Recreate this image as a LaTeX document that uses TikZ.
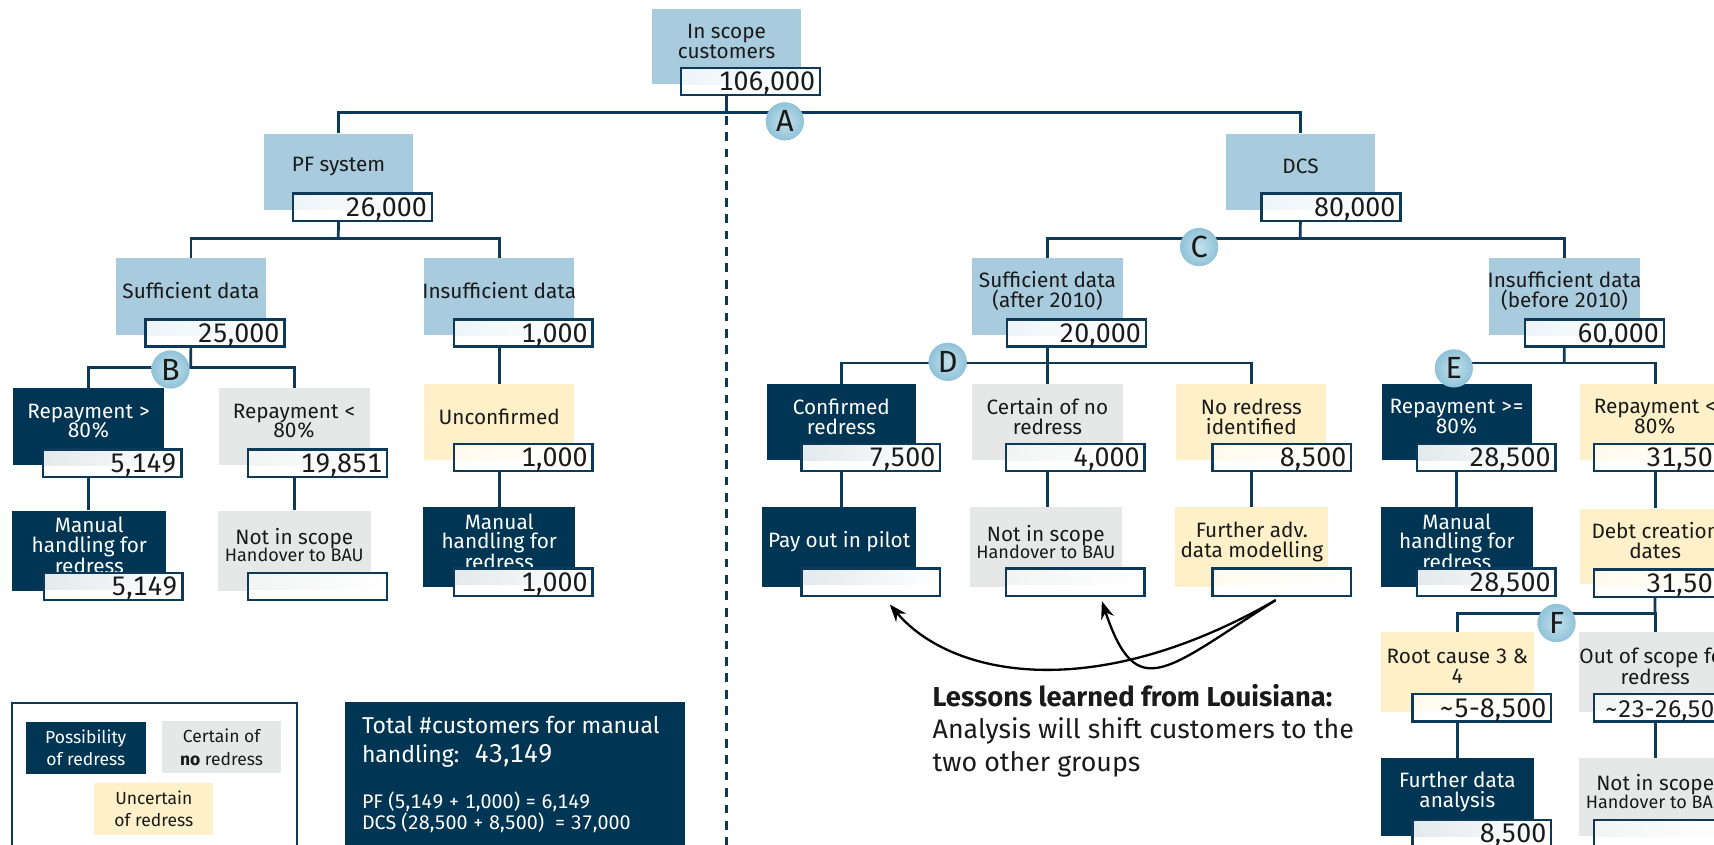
\documentclass[tikz,border=0pt]{standalone}
\usepackage{fontspec}
\setmainfont{Fira Sans}[Numbers={Monospaced,Lining}]
\usetikzlibrary{arrows.meta}
\definecolor{lblue}{HTML}{A8CBDE}
\definecolor{navy}{HTML}{003653}
\definecolor{lgray}{HTML}{E6E8E8}
\definecolor{lyellow}{HTML}{FEF1C9}
\definecolor{linec}{HTML}{0D3A58}
\definecolor{txt}{HTML}{1A1A1A}
\definecolor{circin}{HTML}{C2E1EC}
\definecolor{circout}{HTML}{90C2D8}
\pgfdeclarelayer{bg}
\pgfsetlayers{bg,main}
\newcommand\tnode[8]{%
  \node[#2, minimum width=#5pt, minimum height=#6pt] (#1) at (#3,#4) {};
  \node[#8] (#1-t) at ([yshift=5pt]#1.center) {#7};}
\newcommand\nnode[5]{\node[numbox, tint=#4] (#1) at (#2,#3) {#5};}
\newcommand\hov{\\[-2pt]{\fontsize{16.5}{15}\selectfont Handover to BAU}}
\begin{document}
\begin{tikzpicture}[x=1pt, y=-1pt,
  cbox/.style={rectangle, inner sep=0pt, anchor=north west},
  bluebox/.style={cbox, fill=lblue},
  darkbox/.style={cbox, fill=navy},
  graybox/.style={cbox, fill=lgray},
  yelbox/.style={cbox, fill=lyellow},
  lab/.style={align=center, font=\fontsize{19}{18}\selectfont, text=txt, inner sep=0pt},
  labw/.style={lab, text=white},
  tint/.style={path picture={\shade[left color=#1, right color=white] (path picture bounding box.north west) rectangle ([yshift=-15pt]path picture bounding box.north east);}},
  numbox/.style={rectangle, draw=linec, line width=2.2pt, fill=white, anchor=north west,
    minimum height=25pt, text width=118pt, inner xsep=4.5pt, inner ysep=0pt, align=right,
    font=\fontsize{24.5}{24.5}\selectfont, text height=17pt, text depth=0pt, text=txt},
  conn/.style={draw=linec, line width=2.5pt},
  circ/.style={circle, inner sep=0pt, minimum size=35pt, inner color=circin, outer color=circout,
    font=\fontsize{28}{28}\selectfont, text=txt},
  legtext/.style={align=center, font=\fontsize{16}{20.7}\selectfont, text=txt, inner sep=0pt},
  arr/.style={draw=black, line width=2.1pt, -{Stealth[length=16pt, width=12pt]}},
  bigtext/.style={anchor=base west, inner sep=0pt, text=txt, font=\fontsize{24.5}{24.5}\selectfont},
  tottext/.style={anchor=base west, inner sep=0pt, text=white, font=\fontsize{21}{21}\selectfont},
  smalltot/.style={anchor=base west, inner sep=0pt, text=white, font=\fontsize{18}{18}\selectfont},
]
\useasboundingbox (0,0) rectangle (1568,773);
\clip (0,0) rectangle (1568,773);

% ---------- tree nodes ----------
\tnode{isc}{bluebox}{596}{8}{137}{69}{In scope\\customers}{lab}
\nnode{iscn}{622}{61}{lblue!20!white}{106,000}

\tnode{pf}{bluebox}{241}{122}{137}{70}{PF system}{lab}
\nnode{pfn}{267}{176}{lblue!20!white}{26,000}
\tnode{dcs}{bluebox}{1121}{122}{137}{70}{DCS}{lab}
\nnode{dcsn}{1153}{176}{lblue!20!white}{80,000}

\tnode{sl}{bluebox}{106}{236}{137}{70}{Sufficient data}{lab}
\nnode{sln}{132}{291}{lblue!20!white}{25,000}
\tnode{il}{bluebox}{388}{236}{137}{70}{Insufficient data}{lab}
\nnode{iln}{414}{291}{lblue!20!white}{1,000}
\tnode{sr}{bluebox}{889}{236}{138}{70}{Sufficient data\\(after 2010)}{lab}
\nnode{srn}{920}{291}{lblue!20!white}{20,000}
\tnode{ir}{bluebox}{1362}{236}{138}{70}{Insufficient data\\(before 2010)}{lab}
\nnode{irn}{1394}{291}{lblue!20!white}{60,000}

\tnode{rg}{darkbox}{12}{355}{138}{70}{Repayment >\\80\%}{labw}
\nnode{rgn}{38}{410}{navy!11!white}{5,149}
\tnode{rl}{graybox}{200}{355}{138}{70}{Repayment <\\80\%}{lab}
\nnode{rln}{226}{410}{lgray!50!white}{19,851}
\tnode{un}{yelbox}{388}{351}{137}{70}{Unconfirmed}{lab}
\nnode{unn}{414}{405}{lyellow!35!white}{1,000}
\tnode{cr}{darkbox}{701}{351}{137}{70}{Confirmed\\redress}{labw}
\nnode{crn}{732}{405}{navy!11!white}{7,500}
\tnode{cn}{graybox}{889}{351}{138}{70}{Certain of no\\redress}{lab}
\nnode{cnn}{919}{405}{lgray!50!white}{4,000}
\tnode{nr}{yelbox}{1076}{351}{137}{70}{No redress\\identified}{lab}
\nnode{nrn}{1108}{405}{lyellow!35!white}{8,500}
\tnode{rge}{darkbox}{1264}{351}{137}{70}{Repayment >=\\80\%}{labw}
\nnode{rgen}{1295}{405}{navy!11!white}{28,500}
\tnode{rlt}{yelbox}{1445}{351}{138}{70}{Repayment <\\80\%}{lab}
\nnode{rltn}{1457}{405}{lyellow!35!white}{31,500}

\tnode{ml}{darkbox}{11}{467}{141}{73}{Manual\\handling for\\redress}{labw}
\nnode{mln}{39}{523}{navy!11!white}{5,149}
\tnode{nl}{graybox}{199}{467}{140}{73}{Not in scope\hov}{lab}
\nnode{nln}{226}{523}{lgray!50!white}{}
\tnode{mlb}{darkbox}{387}{464}{139}{73}{Manual\\handling for\\redress}{labw}
\nnode{mlbn}{414}{519}{navy!11!white}{1,000}
\tnode{po}{darkbox}{697}{464}{141}{73}{Pay out in pilot}{labw}
\nnode{pon}{732}{519}{navy!11!white}{}
\tnode{ns}{graybox}{887}{464}{139}{73}{Not in scope\hov}{lab}
\nnode{nsn}{919}{519}{lgray!50!white}{}
\tnode{fa}{yelbox}{1075}{464}{140}{73}{Further adv.\\data modelling}{lab}
\nnode{fan}{1108}{519}{lyellow!35!white}{}
\tnode{mr}{darkbox}{1263}{464}{139}{73}{Manual\\handling for\\redress}{labw}
\nnode{mrn}{1295}{519}{navy!11!white}{28,500}
\tnode{dc}{yelbox}{1445}{465}{138}{69}{Debt creation\\dates}{lab}
\nnode{dcn}{1457}{520}{lyellow!35!white}{31,500}

\tnode{rc}{yelbox}{1263}{578}{140}{73}{Root cause 3 \&\\4}{lab}
\nnode{rcn}{1291}{634}{lyellow!35!white}{\textasciitilde5-8,500}
\tnode{os}{graybox}{1444}{578}{140}{73}{Out of scope for\\redress}{lab}
\nnode{osn}{1457}{634}{lgray!50!white}{\mbox{\fontsize{22}{22}\selectfont\textasciitilde23-26,500}}

\tnode{fd}{darkbox}{1263}{693}{140}{72}{Further data\\analysis}{labw}
\nnode{fdn}{1291}{749}{navy!11!white}{8,500}
\tnode{nsb}{graybox}{1444}{693}{140}{72}{Not in scope\hov}{lab}
\nnode{nsbn}{1457}{749}{lgray!50!white}{}

% ---------- junctions ----------
\coordinate (jA) at (664.5,103);
\coordinate (jPF) at (309.5,218);
\coordinate (jDCS) at (1189.5,218);
\coordinate (jSL) at (174.5,336);
\coordinate (jSR) at (958,332);
\coordinate (jIR) at (1431,332);
\coordinate (jDC) at (1514,561);
\coordinate (dashend) at (664.5,800);

% ---------- connectors ----------
\begin{pgfonlayer}{bg}
\draw[linec, line width=2.3pt, dash pattern=on 8pt off 7pt, dash phase=-3pt] (jA) -- (dashend);
\draw[conn] (isc.south) -- (jA);
\draw[conn] (pf.north) |- (jA) -| (dcs.north);
\draw[conn] (pf.south) -- (jPF);
\draw[conn] (sl.north) |- (jPF) -| (il.north);
\draw[conn] (dcs.south) -- (jDCS);
\draw[conn] (sr.north) |- (jDCS) -| (ir.north);
\draw[conn] (sl.south) -- (jSL);
\draw[conn] (rg.north) |- (jSL) -| (rl.north);
\draw[conn] (il.south) -- (il.south |- un.north);
\draw[conn] (sr.south) -- (sr.south |- cn.north);
\draw[conn] (cr.north) |- (jSR) -| (nr.north);
\draw[conn] (ir.south) -- (jIR);
\draw[conn] (rge.north) |- (jIR) -| (rlt.north);
\draw[conn] (rg.south) -- (rg.south |- ml.north);
\draw[conn] (rl.south) -- (rl.south |- nl.north);
\draw[conn] (un.south) -- (un.south |- mlb.north);
\draw[conn] (cr.south) -- (cr.south |- po.north);
\draw[conn] (cn.south) -- (cn.south |- ns.north);
\draw[conn] (nr.south) -- (nr.south |- fa.north);
\draw[conn] (rge.south) -- (rge.south |- mr.north);
\draw[conn] (rlt.south) -- (rlt.south |- dc.north);
\draw[conn] (dc.south) -- (jDC);
\draw[conn] (rc.north) |- (jDC) -| (os.north);
\draw[conn] (rc.south) -- (rc.south |- fd.north);
\draw[conn] (os.south) -- (os.south |- nsb.north);
\end{pgfonlayer}

% ---------- letter circles ----------
\node[circ] (cA) at (718,111) {A};
\node[circ] (cB) at (156,338) {B};
\node[circ] (cC) at (1097,226) {C};
\node[circ] (cD) at (867,331) {D};
\node[circ] (cE) at (1330,337) {E};
\node[circ] (cF) at (1424,570) {F};

% ---------- lessons arrows ----------
\coordinate (as) at (1167,549);
\coordinate (t1) at (814,553);
\coordinate (t2) at (1008,550);
\draw[arr] (as) .. controls (1000,645) and (870,619) .. (t1);
\draw[arr] (as) .. controls (1066,613) and (1040,645) .. (t2);

\node[bigtext, font=\bfseries\fontsize{25}{25}\selectfont] (les1) at (853,646) {Lessons learned from Louisiana:};
\node[bigtext] (les2) at (853,675.5) {Analysis will shift customers to the};
\node[bigtext] (les3) at (853,706) {two other groups};

% ---------- legend ----------
\node[draw=linec, line width=2pt, fill=white, anchor=north west, minimum width=261pt, minimum height=170pt] (legend) at (10,642) {};
\node[darkbox, minimum width=109.5pt, minimum height=47pt] (lg1) at (23.5,660.5) {};
\node[legtext, text=white] at (lg1.center) {Possibility\\of redress};
\node[graybox, minimum width=109pt, minimum height=47.5pt] (lg2) at (148,659.5) {};
\node[legtext] at (lg2.center) {Certain of\\\textbf{no} redress};
\node[yelbox, minimum width=109pt, minimum height=47.5pt] (lg3) at (86,716) {};
\node[legtext] at (lg3.center) {Uncertain\\of redress};

% ---------- total box ----------
\node[darkbox, minimum width=311pt, minimum height=170pt] (total) at (315,642) {};
\node[tottext] (tot1) at (331,670.8) {Total \#customers for manual};
\node[tottext] (tot2) at (331,697.7) {handling:\hspace{14pt}{\fontsize{23.5}{23.5}\selectfont 43,149}};
\node[smalltot] (tot3) at (331,739.5) {PF (5,149 + 1,000) = 6,149};
\node[smalltot] (tot4) at (331,758.7) {DCS (28,500 + 8,500)\ \ = 37,000};
\end{tikzpicture}
\end{document}
